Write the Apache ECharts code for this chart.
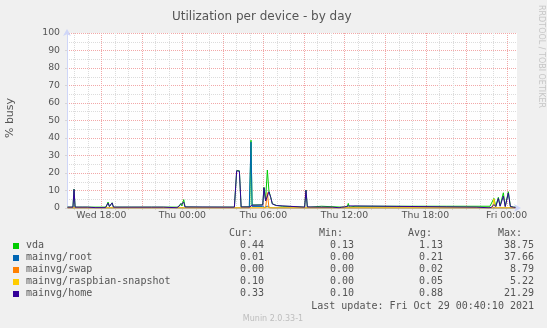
<!DOCTYPE html>
<html><head><meta charset="utf-8">
<script src="https://cdn.jsdelivr.net/npm/echarts@6/dist/echarts.min.js"></script>
<style>html,body{margin:0;padding:0;background:#f0f0f0}#c{width:547px;height:328px}</style>
</head><body><div id="c"></div>
<script>
// ---- data (x = hours since Wed 00:00, y = % busy) ----
const seriesNames = ["vda", "mainvg/root", "mainvg/swap", "mainvg/raspbian-snapshot", "mainvg/home"];
const seriesColors = ["#00CC00", "#0066B3", "#FF8000", "#FFCC00", "#330099"];

const vdaData = [
  [15.50,0.5],[15.90,0.5],[15.98,10.8],[16.06,0.5],[16.6,0.5],[17.15,0.5],[17.22,1.2],[17.3,0.5],
  [18.35,0.5],[18.5,3.4],[18.6,1.0],[18.72,1.0],[18.8,3.0],[18.9,0.5],[19.6,0.5],[20.1,0.5],[20.18,1.1],
  [20.26,0.5],[21.7,0.5],[21.8,1.1],[21.9,0.5],[23.7,0.5],[23.88,2.6],[23.96,1.2],[24.1,4.8],[24.2,0.6],
  [25.5,0.5],[27.85,0.5],[28.02,21.3],[28.22,21.3],[28.35,0.6],[28.98,0.7],[29.08,38.75],[29.16,1.7],
  [29.95,1.8],[30.04,11.8],[30.16,4.5],[30.29,21.7],[30.41,9.5],[30.54,6.2],[30.66,2.4],[30.8,1.8],
  [30.95,1.5],[31.05,0.6],[31.4,1.0],[31.5,0.5],[32.0,0.9],[32.1,0.5],[33.05,0.5],[33.15,10.3],[33.25,0.6],
  [33.37,1.1],[33.45,0.5],[34.3,1.0],[34.4,0.5],[35.8,0.5],[35.9,1.6],[36.0,0.6],[36.2,0.7],[36.28,2.6],
  [36.36,0.5],[36.78,1.0],[36.86,0.5],[38.26,1.0],[38.34,0.5],[39.86,1.0],[39.94,0.5],[41.47,1.0],
  [41.55,0.5],[43.07,1.0],[43.15,0.5],[43.57,1.0],[43.65,0.5],[45.05,1.0],[45.13,0.5],[46.77,1.0],
  [46.9,0.7],[47.06,5.5],[47.2,1.0],[47.39,6.1],[47.52,1.2],[47.76,8.7],[47.9,1.0],[48.13,9.3],
  [48.28,0.9],[48.5,0.5],[48.65,0.44]
];
const rootData = [
  [15.5,0.02],[15.9,0.02],[15.98,0.5],[16.06,0.02],[28.95,0.05],[29.08,37.66],[29.16,0.9],
  [29.95,0.9],[30.1,0.3],[30.29,1.0],[30.5,0.2],[30.7,0.02],[48.65,0.01]
];
const swapData = [
  [15.5,0],[30.16,0],[30.29,8.79],[30.41,0],[48.65,0]
];
const raspbianData = [
  [15.5,0.05],[46.95,0.05],[47.06,5.22],[47.18,0.05],[48.5,0.05],[48.65,0.10]
];
const homeData = [
  [15.50,0.5],[15.90,0.5],[15.98,10.6],[16.06,0.5],[17.0,0.5],[17.6,0.2],[18.3,0.2],[18.35,0.5],
  [18.5,2.8],[18.6,0.8],[18.72,0.9],[18.8,2.9],[18.9,0.5],[21.7,0.5],[21.8,1.0],[21.9,0.5],
  [22.6,0.5],[22.7,0.15],[23.6,0.15],[23.7,0.5],[23.88,2.0],[23.96,1.0],[24.1,3.3],[24.2,0.6],
  [27.85,0.5],[28.02,21.29],[28.22,21.0],[28.35,0.6],[29.0,0.6],[29.1,1.2],[29.16,1.6],[29.95,1.7],
  [30.04,11.6],[30.16,4.0],[30.29,5.0],[30.41,9.3],[30.54,6.0],[30.66,2.3],[30.8,1.7],[30.95,1.4],
  [31.05,0.6],[33.05,0.5],[33.15,10.1],[33.25,0.6],[35.1,0.5],[35.2,0.15],[35.6,0.15],[35.7,0.5],
  [35.8,0.5],[35.9,1.5],[36.0,0.6],[36.28,1.2],[36.36,0.5],[45.8,0.5],[45.9,0.1],[46.7,0.1],[46.8,0.5],
  [46.9,0.5],[47.06,2.0],[47.2,0.8],[47.39,5.5],[47.52,1.0],[47.76,6.8],[47.9,0.8],[48.13,8.6],
  [48.28,0.8],[48.5,0.5],[48.65,0.33]
];
const legendCur = ["0.44", "0.01", "0.00", "0.10", "0.33"];
const legendMin = ["0.13", "0.00", "0.00", "0.00", "0.10"];
const legendAvg = ["1.13", "0.21", "0.02", "0.05", "0.88"];
const legendMax = ["38.75", "37.66", "8.79", "5.22", "21.29"];
const tickHours = [18, 24, 30, 36, 42, 48];
const tickLabels = ["Wed 18:00", "Thu 00:00", "Thu 06:00", "Thu 12:00", "Thu 18:00", "Fri 00:00"];
const minorGridHours = [16,17,18,19,20,21,22,23,24,25,26,27,28,29,30,31,32,33,34,35,36,37,38,39,40,41,42,43,44,45,46,47,48];
const majorGridHours = [18,21,24,27,30,33,36,39,42,45,48];
const xMin = 15.46, xMax = 48.77;
const titleText = "Utilization per device - by day";
const yTitle = "% busy";
const lastUpdate = "Last update: Fri Oct 29 00:40:10 2021";
const muninVersion = "Munin 2.0.33-1";
const watermark = "RRDTOOL / TOBI OETIKER";

// ---- chart ----
const allData = [vdaData, rootData, swapData, raspbianData, homeData];
const sans = '"DejaVu Sans", sans-serif';
const mono = '"DejaVu Sans Mono", monospace';
const MINOR = '#dcdcdc', MAJOR = '#f2a8a8', AXIS = '#CFD6F8', TXT = '#555555';

function gridSeries(hours, color) {
  return {
    type: 'custom', silent: true, z: 1,
    data: hours.map(h => [h, 0]),
    renderItem: (params, api) => {
      const p0 = api.coord([api.value(0), 0]);
      const p1 = api.coord([api.value(0), 100]);
      const x = Math.round(p0[0]) + 0.5;
      return { type: 'line', shape: { x1: x, y1: p1[1], x2: x, y2: p0[1] },
               style: { stroke: color, lineWidth: 1, lineDash: [1, 1] } };
    }
  };
}

const graphics = [];
graphics.push({ type: 'text', x: 10, y: 118, rotation: Math.PI / 2,
  style: { text: yTitle, font: '11px ' + sans, fill: TXT, align: 'center', verticalAlign: 'middle' } });
graphics.push({ type: 'text', x: 541, y: 5, rotation: -Math.PI / 2,
  style: { text: watermark, font: '8px ' + sans, fill: '#c6c6c6', align: 'left', verticalAlign: 'middle' } });
const heads = [["Cur:", 229], ["Min:", 319], ["Avg:", 408], ["Max:", 498]];
heads.forEach(([t, x]) => graphics.push({ type: 'text', x: x, y: 233,
  style: { text: t, font: '10px ' + mono, fill: TXT, align: 'left', verticalAlign: 'middle' } }));
const cols = [[legendCur, 264], [legendMin, 354], [legendAvg, 443], [legendMax, 534]];
seriesNames.forEach((n, i) => {
  const y = 245.5 + 12.1 * i;
  graphics.push({ type: 'rect', shape: { x: 13, y: Math.round(y) - 3, width: 6, height: 6 },
    style: { fill: seriesColors[i] } });
  graphics.push({ type: 'text', x: 26, y: y,
    style: { text: n, font: '10px ' + mono, fill: TXT, align: 'left', verticalAlign: 'middle' } });
  cols.forEach(([arr, x]) => graphics.push({ type: 'text', x: x, y: y,
    style: { text: arr[i], font: '10px ' + mono, fill: TXT, align: 'right', verticalAlign: 'middle' } }));
});
graphics.push({ type: 'text', x: 534, y: 306.5,
  style: { text: lastUpdate, font: '10px ' + mono, fill: TXT, align: 'right', verticalAlign: 'middle' } });
graphics.push({ type: 'text', x: 273, y: 318.5,
  style: { text: muninVersion, font: '8px ' + sans, fill: '#bdbdbd', align: 'center', verticalAlign: 'middle' } });

const chart = echarts.init(document.getElementById('c'), null, { renderer: 'canvas' });
chart.setOption({
  backgroundColor: '#f0f0f0',
  animation: false,
  title: { text: titleText, left: 167, top: 6,
    textStyle: { fontFamily: sans, fontSize: 12, fontWeight: 'normal', color: TXT } },
  grid: { left: 67, top: 33, width: 450, height: 175, show: true, backgroundColor: '#ffffff', borderWidth: 0 },
  xAxis: {
    type: 'value', min: xMin, max: xMax,
    axisLine: { show: true, lineStyle: { color: AXIS, width: 1 }, symbol: ['none', 'arrow'], symbolSize: [6, 7], symbolOffset: [0, 4] },
    axisTick: { show: true, customValues: minorGridHours, length: 2, lineStyle: { color: '#d6d6d6' } },
    axisLabel: { customValues: tickHours, margin: 3, fontFamily: sans, fontSize: 9.33, color: TXT,
      formatter: v => tickLabels[tickHours.indexOf(Math.round(v))] || '' },
    splitLine: { show: false }
  },
  yAxis: {
    type: 'value', min: 0, max: 100, interval: 10,
    axisLine: { show: true, lineStyle: { color: AXIS, width: 1 }, symbol: ['none', 'arrow'], symbolSize: [6, 7], symbolOffset: [0, 4] },
    axisTick: { show: true, length: 2, lineStyle: { color: '#d6d6d6' } },
    axisLabel: { margin: 7, fontFamily: sans, fontSize: 9.33, color: TXT },
    splitLine: { show: true, lineStyle: { color: MAJOR, type: [1, 1], width: 1 } },
    minorTick: { show: false, splitNumber: 2 },
    minorSplitLine: { show: true, lineStyle: { color: MINOR, type: [1, 1], width: 1 } }
  },
  series: [
    gridSeries(minorGridHours, MINOR),
    gridSeries(majorGridHours, MAJOR)
  ].concat(seriesNames.map((n, i) => ({
    name: n, type: 'line', data: allData[i], z: 3 + i, showSymbol: false, silent: true,
    lineStyle: { color: seriesColors[i], width: 1 }, itemStyle: { color: seriesColors[i] }
  }))),
  graphic: graphics
});
</script></body></html>
